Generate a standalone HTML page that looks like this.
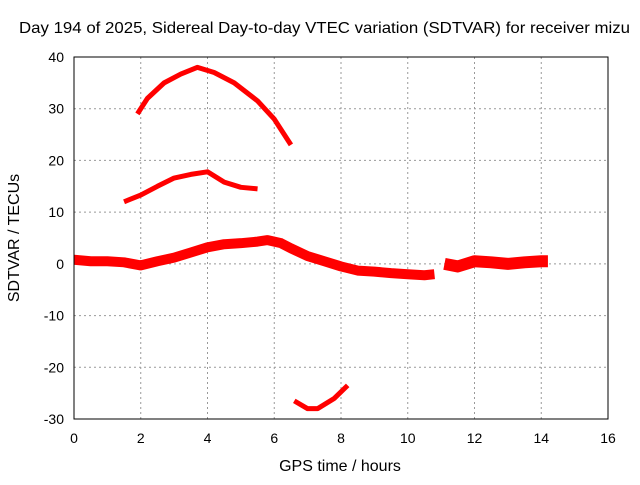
<!DOCTYPE html>
<html><head><meta charset="utf-8"><style>
body{margin:0;background:#fff}
svg text{font-family:"Liberation Sans",sans-serif;font-size:14px;fill:#000}
</style></head><body>
<svg id="c" width="640" height="480">
<text x="19" y="33" textLength="611" lengthAdjust="spacingAndGlyphs" style="font-size:16px">Day 194 of 2025, Sidereal Day-to-day VTEC variation (SDTVAR) for receiver mizu</text>
<text x="340" y="471" text-anchor="middle" style="font-size:16px">GPS time / hours</text>
<text transform="translate(19,238) rotate(-90)" text-anchor="middle" style="font-size:16px">SDTVAR / TECUs</text>
<g id="grid"></g><g id="ticks"></g><g id="series"></g>
<rect x="74" y="57" width="534" height="362" fill="none" stroke="#000"/>
</svg>
<script>
const xTicks=[0,2,4,6,8,10,12,14,16];
const yTicks=[-30,-20,-10,0,10,20,30,40];
const mainX=[0,0.5,1,1.5,2,2.5,3,3.5,4,4.5,5,5.5,5.8,6.2,6.5,7,7.5,8,8.5,9,9.5,10,10.5,10.8];
const mainY=[0.8,0.5,0.5,0.3,-0.3,0.5,1.2,2.2,3.2,3.8,4.0,4.3,4.6,4.0,3.0,1.5,0.5,-0.5,-1.3,-1.5,-1.8,-2.0,-2.2,-2.0];
const rightX=[11.1,11.5,12,12.5,13,13.5,14,14.2];
const rightY=[0,-0.5,0.5,0.3,0,0.3,0.5,0.5];
const topX=[1.9,2.2,2.7,3.2,3.7,4.2,4.8,5.5,6,6.5];
const topY=[29,32,35,36.7,38,37,35,31.5,28,23];
const midX=[1.5,2,2.5,3,3.5,4,4.5,5,5.5];
const midY=[12,13.3,15,16.6,17.3,17.8,15.8,14.8,14.5];
const botX=[6.6,7,7.3,7.8,8.2];
const botY=[-26.5,-28,-28,-26,-23.5];
const NS="http://www.w3.org/2000/svg";
const X=v=>74+v*(534/16), Y=v=>57+(40-v)*(362/70);
const g=document.getElementById('grid'),t=document.getElementById('ticks'),s=document.getElementById('series');
function mk(tag,a,p){const e=document.createElementNS(NS,tag);for(const k in a)e.setAttribute(k,a[k]);p.appendChild(e);return e;}
xTicks.forEach(v=>{const x=X(v);
 if(v>0&&v<16){const l=mk('line',{x1:x,x2:x,y1:57,y2:419,stroke:'#999','stroke-dasharray':'2,3'},g);
 
 }
 const tx=mk('text',{x:x,y:443,'text-anchor':'middle'},t);tx.textContent=v;
 
 });
yTicks.forEach(v=>{const y=Y(v);
 if(v>-30&&v<40){const l=mk('line',{x1:74,x2:608,y1:y,y2:y,stroke:'#999','stroke-dasharray':'2,3'},g);
 
 }
 const tx=mk('text',{x:64,y:y+5,'text-anchor':'end'},t);tx.textContent=v;
 
 });
function line(xs,ys,w,name){const p=mk('polyline',{points:xs.map((x,i)=>X(x)+','+Y(ys[i])).join(' '),fill:'none',stroke:'#f00','stroke-width':w,'stroke-linejoin':'round'},s);
 
 }
line(mainX,mainY,10,'series-main');
line(rightX,rightY,12,'series-right');
line(topX,topY,5,'series-top-arc');
line(midX,midY,5,'series-mid-arc');
line(botX,botY,5,'series-bottom-arc');
</script>
</body></html>
